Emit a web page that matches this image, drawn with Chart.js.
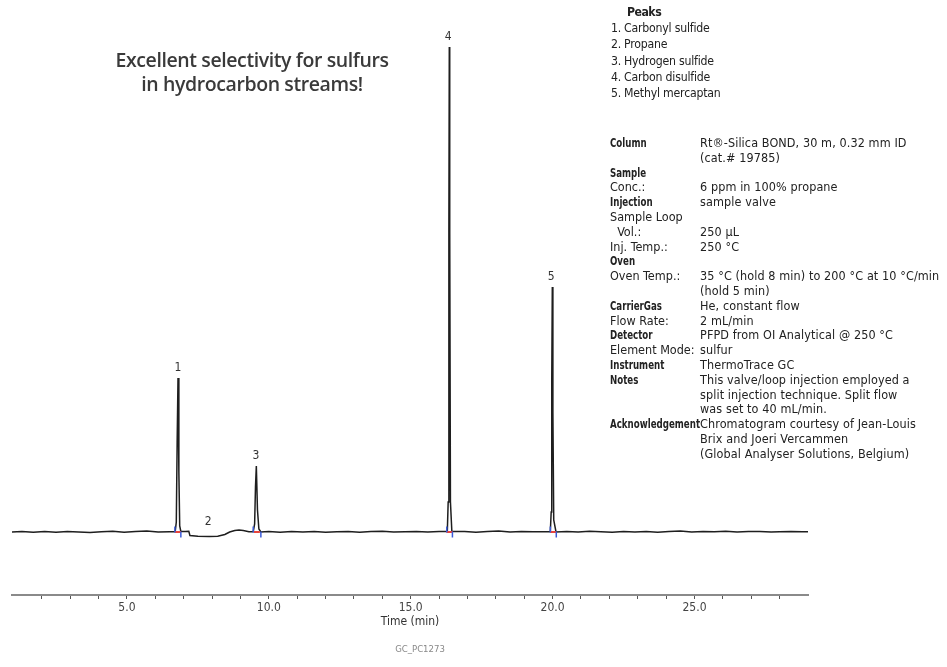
<!DOCTYPE html>
<html>
<head>
<meta charset="utf-8">
<script src="https://cdn.jsdelivr.net/npm/chart.js@4.4.1/dist/chart.umd.min.js"></script>
<style>
  body { margin: 0; background: #fff; }
  #wrap { position: relative; width: 947px; height: 667px; }
  .narrow { font-family: "Liberation Sans Narrow", "DejaVu Sans Condensed", "Roboto", sans-serif; color: #222; }
  #headline { position: absolute; left: 52px; top: 48px; width: 400px; text-align: center;
    font-family: "Open Sans", "Lato", sans-serif; font-weight: 600; font-size: 19.5px; line-height: 24px; color: #3a3a3a; letter-spacing: -0.4px; }
  #peaks { position: absolute; left: 611px; top: 4px; font-size: 12.2px; line-height: 16.2px; letter-spacing: -0.2px; }
  #peaks .hd { padding-left: 16px; font-weight: bold; letter-spacing: -0.5px; }
  #peaks .n { display: inline-block; width: 13px; }
  #info { position: absolute; left: 610px; top: 136px; font-size: 12.5px; line-height: 14.8px;
    display: grid; grid-template-columns: 90px 250px; }
  #info b { font-weight: bold; display: inline-block; transform: scaleX(0.77); transform-origin: left; white-space: nowrap; }
  #info .v { letter-spacing: 0.1px; }
  #code { position: absolute; left: 380px; top: 643px; width: 80px; text-align: center; font-size: 9.5px; color: #888; }
</style>
</head>
<body>
<div id="wrap">
  <canvas id="gc"></canvas>
  <div id="headline">Excellent selectivity for sulfurs<br>in hydrocarbon streams!</div>
  <div id="peaks" class="narrow">
    <div class="hd">Peaks</div>
    <div><span class="n">1.</span>Carbonyl sulfide</div>
    <div><span class="n">2.</span>Propane</div>
    <div><span class="n">3.</span>Hydrogen sulfide</div>
    <div><span class="n">4.</span>Carbon disulfide</div>
    <div><span class="n">5.</span>Methyl mercaptan</div>
  </div>
  <div id="info" class="narrow">
    <div><b>Column</b></div><span class="v">Rt®-Silica BOND, 30 m, 0.32 mm ID<br>(cat.# 19785)</span>
    <div><b>Sample</b></div><span></span>
    <span>Conc.:</span><span class="v">6 ppm in 100% propane</span>
    <div><b>Injection</b></div><span class="v">sample valve</span>
    <span>Sample Loop</span><span></span>
    <span>&nbsp;&nbsp;Vol.:</span><span class="v">250 µL</span>
    <span>Inj. Temp.:</span><span class="v">250 °C</span>
    <div><b>Oven</b></div><span></span>
    <span>Oven Temp.:</span><span class="v">35 °C (hold 8 min) to 200 °C at 10 °C/min<br>(hold 5 min)</span>
    <div><b>CarrierGas</b></div><span class="v">He, constant flow</span>
    <span>Flow Rate:</span><span class="v">2 mL/min</span>
    <div><b>Detector</b></div><span class="v">PFPD from OI Analytical @ 250 °C</span>
    <span>Element Mode:</span><span class="v">sulfur</span>
    <div><b>Instrument</b></div><span class="v">ThermoTrace GC</span>
    <div><b>Notes</b></div><span class="v">This valve/loop injection employed a<br>split injection technique. Split flow<br>was set to 40 mL/min.</span>
    <div><b>Acknowledgement</b></div><span class="v">Chromatogram courtesy of Jean-Louis<br>Brix and Joeri Vercammen<br>(Global Analyser Solutions, Belgium)</span>
  </div>
  <div id="code" class="narrow">GC_PC1273</div>
</div>
<script>
// --- data (time in min, signal in arbitrary units) ---
const times = [
  0.95, 1.3, 1.7, 2.1, 2.5, 2.9, 3.3, 3.7, 4.1, 4.5, 4.9, 5.3, 5.7, 6.1, 6.5,
  6.70, 6.74, 6.77, 6.80, 6.83, 6.86, 6.90,
  7.05, 7.18, 7.22, 7.5, 7.9, 8.2, 8.45, 8.62, 8.8, 8.95, 9.1, 9.3,
  9.45, 9.50, 9.53, 9.56, 9.60, 9.65, 9.72,
  10.0, 10.4, 10.8, 11.2, 11.6, 12.0, 12.4, 12.8, 13.2, 13.6, 14.0, 14.4, 14.8, 15.2, 15.6, 16.0,
  16.29, 16.32, 16.345, 16.36, 16.375, 16.40, 16.45,
  16.9, 17.3, 17.7, 18.1, 18.5, 18.9, 19.3, 19.7,
  19.92, 19.95, 19.97, 19.99, 20.01, 20.04, 20.12,
  20.5, 20.9, 21.3, 21.7, 22.1, 22.5, 22.9, 23.3, 23.7, 24.1, 24.5, 24.9, 25.3, 25.7,
  26.1, 26.5, 26.9, 27.3, 27.7, 28.0, 28.4, 28.8, 29.0
];
const signal = [
  0, 0.4, -0.3, 0.5, -0.2, 0.6, 0.1, -0.4, 0.3, 0.8, -0.2, 0.4, 0.9, 0.1, 0.3,
  0.2, 10, 90, 154, 60, 6, 0.5,
  0.6, 0.8, -3.5, -4.2, -4.6, -4.2, -2.5, 0, 1.4, 2.0, 1.5, 0.3,
  0.2, 8, 45, 66, 22, 3, 0,
  0.4, -0.2, 0.5, 0, 0.6, -0.3, 0.3, 0.5, -0.2, 0.4, 0.8, -0.1, 0.3, 0.6, 0, 0.4,
  0.5, 30, 300, 485, 300, 30, 0.5,
  0.5, -0.2, 0.4, 0.9, 0, 0.5, 0.2, 0.3,
  0.2, 20, 150, 245, 120, 12, 0,
  0.6, 0, 0.7, 0.2, -0.3, 0.5, 0.1, 0.6, -0.2, 0.4, 0.9, 0, 0.5, 0.2,
  0.7, -0.1, 0.4, 0.6, 0.1, 0.3, 0.5, 0.2, 0.3
];

// integration marks (start / end of each integrated peak)
const peakStart = [6.69, 9.45, 16.27, 19.92];
const peakEnd = [6.90, 9.72, 16.47, 20.13];
const peakMid = [6.80, 9.58, 16.37, 20.02];

// peak number labels
const peakLabels = ['1', '2', '3', '4', '5'];
const peakLabelTimes = [6.80, 7.86, 9.55, 16.32, 19.95];
const peakLabelHeights = [154, 0, 66, 485, 245];

const timeTicks = [5, 10, 15, 20, 25];

const points = times.map((t, i) => ({ x: t, y: signal[i] }));

const peakNumberPlugin = {
  id: 'peakNumbers',
  afterDatasetsDraw(chart) {
    const { ctx, scales: { x, y } } = chart;
    ctx.save();
    ctx.font = '12px "Liberation Sans Narrow", "DejaVu Sans Condensed", sans-serif';
    ctx.fillStyle = '#333';
    ctx.textAlign = 'center';
    ctx.textBaseline = 'bottom';
    peakLabels.forEach((lbl, i) => {
      ctx.fillText(lbl, x.getPixelForValue(peakLabelTimes[i]), y.getPixelForValue(peakLabelHeights[i]) - 4);
    });
    ctx.restore();
  }
};

new Chart(document.getElementById('gc'), {
  type: 'line',
  data: {
    datasets: [
      {
        data: points,
        borderColor: '#1e1e1e',
        borderWidth: 1.5,
        pointRadius: 0,
        tension: 0,
        order: 5
      },
      {
        type: 'scatter',
        data: peakStart.map(t => ({ x: t, y: 2.5 })),
        pointStyle: 'line', rotation: 90, radius: 3,
        borderColor: '#3a5bd9', borderWidth: 1.5, order: 1
      },
      {
        type: 'scatter',
        data: peakEnd.map(t => ({ x: t, y: -2.5 })),
        pointStyle: 'line', rotation: 90, radius: 3,
        borderColor: '#3a5bd9', borderWidth: 1.5, order: 1
      },
      {
        type: 'scatter',
        data: peakMid.map(t => ({ x: t, y: 0 })),
        pointStyle: 'line', rotation: 0, radius: 3,
        borderColor: '#e8453c', borderWidth: 2, order: 1
      }
    ]
  },
  options: {
    responsive: true,
    maintainAspectRatio: false,
    animation: false,
    layout: { padding: { left: 12, right: 139, top: 20, bottom: 0 } },
    plugins: { legend: { display: false }, tooltip: { enabled: false } },
    scales: {
      x: {
        type: 'linear',
        min: 0.95,
        max: 29.0,
        afterFit: (scale) => { scale.height = 72; },
        afterBuildTicks: (scale) => {
          scale.ticks = scale.ticks.filter(t => Number.isInteger(t.value) && t.value >= 2 && t.value <= 28);
        },
        border: { display: true, color: '#8a8a8a', width: 2 },
        grid: { drawOnChartArea: false, drawTicks: true, tickLength: 4, color: '#555' },
        ticks: {
          stepSize: 1,
          autoSkip: false,
          maxRotation: 0,
          padding: 2,
          color: '#444',
          font: { family: '"Liberation Sans Narrow", "DejaVu Sans Condensed", sans-serif', size: 12 },
          callback: (v) => timeTicks.includes(v) ? v.toFixed(1) : ''
        },
        title: {
          display: true,
          text: 'Time (min)',
          color: '#333',
          font: { family: '"Liberation Sans Narrow", "DejaVu Sans Condensed", sans-serif', size: 12 },
          padding: { top: 0, bottom: 38 }
        }
      },
      y: {
        display: false,
        min: -63,
        max: 512
      }
    }
  },
  plugins: [peakNumberPlugin]
});
</script>
</body>
</html>
